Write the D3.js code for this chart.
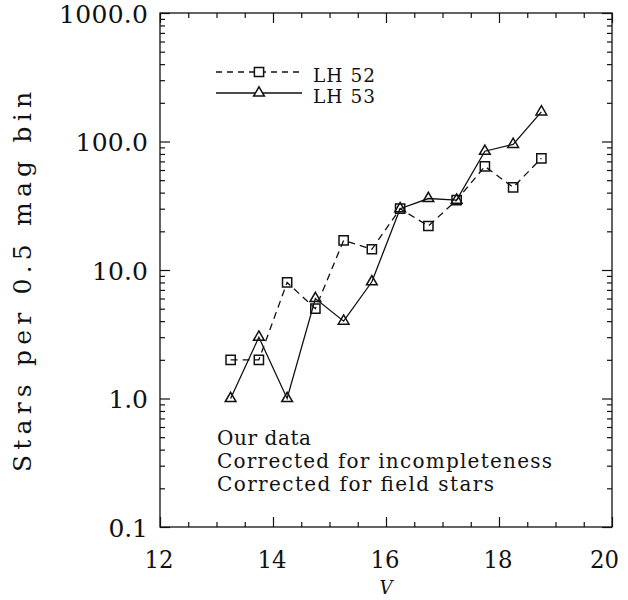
<!DOCTYPE html>
<html>
<head>
<meta charset="utf-8">
<script src="https://cdn.jsdelivr.net/npm/d3@7"></script>
<style>
  html, body { margin: 0; padding: 0; background: #fff; }
  svg { display: block; }
  text { font-family: "DejaVu Serif", "Liberation Serif", serif; fill: #111; }
</style>
</head>
<body>
<svg id="chart" width="628" height="600"></svg>
<script>
// Bin centres (V magnitude, 0.5 mag bins)
const binV = [13.25, 13.75, 14.25, 14.75, 15.25, 15.75, 16.25, 16.75, 17.25, 17.75, 18.25, 18.75];
// Stars per bin for each cluster
const lh52 = [2.0, 2.0, 8.0, 5.0, 17, 14.5, 30, 22, 35, 64, 44, 74];
const lh53 = [1.0, 3.0, 1.0, 6.0, 4.0, 8.1, 30, 36, 35, 84, 95, 170];
const seriesNames = ["LH 52", "LH 53"];
// Axis ticks
const xMajor = [12, 14, 16, 18, 20];
const xMinor = [12.5, 13, 13.5, 14.5, 15, 15.5, 16.5, 17, 17.5, 18.5, 19, 19.5];
const yMajor = [0.1, 1, 10, 100, 1000];
const yMajorLabels = ["0.1", "1.0", "10.0", "100.0", "1000.0"];
const notes = ["Our data", "Corrected for incompleteness", "Corrected for field stars"];

const svg = d3.select("#chart");
const plotL = 160, plotR = 612, plotT = 13, plotB = 527;
const ink = "#111";

const x = d3.scaleLinear().domain([12, 20]).range([plotL, plotR]);
const y = d3.scaleLog().domain([0.1, 1000]).range([plotB, plotT]);
const yMinor = y.ticks().filter(v => !yMajor.some(m => Math.abs(m - v) < 1e-9));

// Frame
svg.append("rect")
  .attr("x", plotL).attr("y", plotT)
  .attr("width", plotR - plotL).attr("height", plotB - plotT)
  .attr("fill", "none").attr("stroke", ink).attr("stroke-width", 1.3);

function styleAxis(g) {
  g.select(".domain").remove();
  g.selectAll("line").attr("stroke", ink).attr("stroke-width", 1.2);
}

// Bottom / top axes (ticks point inward)
svg.append("g").attr("transform", `translate(0,${plotB})`)
  .call(d3.axisBottom(x).tickValues(xMinor).tickSize(-5).tickFormat(""))
  .call(styleAxis);
const xb = svg.append("g").attr("transform", `translate(0,${plotB})`)
  .call(d3.axisBottom(x).tickValues(xMajor).tickSize(-10).tickFormat(d3.format("d")))
  .call(styleAxis);
// the last label is pulled in so it stays inside the page edge
xb.selectAll("text")
  .attr("y", 41).attr("dy", null)
  .attr("x", d => d === 20 ? -8 : -1.5)
  .attr("font-size", 25).attr("fill", ink)
  .attr("textLength", 29).attr("lengthAdjust", "spacingAndGlyphs");

svg.append("g").attr("transform", `translate(0,${plotT})`)
  .call(d3.axisTop(x).tickValues(xMinor).tickSize(-5).tickFormat(""))
  .call(styleAxis);
svg.append("g").attr("transform", `translate(0,${plotT})`)
  .call(d3.axisTop(x).tickValues(xMajor).tickSize(-10).tickFormat(""))
  .call(styleAxis);

// Left / right axes
svg.append("g").attr("transform", `translate(${plotL},0)`)
  .call(d3.axisLeft(y).tickValues(yMinor).tickSize(-5).tickFormat(""))
  .call(styleAxis);
const yl = svg.append("g").attr("transform", `translate(${plotL},0)`)
  .call(d3.axisLeft(y).tickValues(yMajor).tickSize(-10)
    .tickFormat((d, i) => yMajorLabels[i]))
  .call(styleAxis);
yl.selectAll("text")
  .attr("x", -12).attr("dy", null).attr("y", 9)
  .attr("font-size", 25).attr("fill", ink)
  .attr("text-anchor", "end")
  .attr("textLength", d => 16.5 * yMajorLabels[yMajor.indexOf(d)].length - 10)
  .attr("lengthAdjust", "spacing");

svg.append("g").attr("transform", `translate(${plotR},0)`)
  .call(d3.axisRight(y).tickValues(yMinor).tickSize(-5).tickFormat(""))
  .call(styleAxis);
svg.append("g").attr("transform", `translate(${plotR},0)`)
  .call(d3.axisRight(y).tickValues(yMajor).tickSize(-10).tickFormat(""))
  .call(styleAxis);

// Axis titles
svg.append("text")
  .attr("x", x(16)).attr("y", 594)
  .attr("text-anchor", "middle")
  .attr("font-size", 18).attr("font-style", "italic")
  .text("V");

svg.append("text")
  .attr("transform", `translate(31,${282}) rotate(-90)`)
  .attr("text-anchor", "middle")
  .attr("font-size", 25)
  .attr("textLength", 380).attr("lengthAdjust", "spacing")
  .text("Stars per 0.5 mag bin");

// Marker shapes
const sq = d3.symbol().type(d3.symbolSquare).size(85);
const tri = d3.symbol().type(d3.symbolTriangle).size(50);

const line = d3.line().x(d => x(d[0])).y(d => y(d[1]));

function drawSeries(values, dash, sym) {
  const pts = binV.map((v, i) => [v, values[i]]);
  svg.append("path")
    .attr("d", line(pts))
    .attr("fill", "none").attr("stroke", ink).attr("stroke-width", 1.3)
    .attr("stroke-dasharray", dash);
  svg.append("g").selectAll("path").data(pts).join("path")
    .attr("transform", d => `translate(${x(d[0])},${y(d[1])})`)
    .attr("d", sym)
    .attr("fill", "none").attr("stroke", ink).attr("stroke-width", 1.5);
}
drawSeries(lh52, "7,5", sq);
drawSeries(lh53, null, tri);

// Legend
const legend = [
  { name: seriesNames[0], dash: "6,5", sym: sq, ly: 72, ty: 81.5 },
  { name: seriesNames[1], dash: null, sym: tri, ly: 93, ty: 103 }
];
legend.forEach(L => {
  svg.append("line")
    .attr("x1", 216).attr("x2", 302).attr("y1", L.ly).attr("y2", L.ly)
    .attr("stroke", ink).attr("stroke-width", 1.3)
    .attr("stroke-dasharray", L.dash);
  svg.append("path")
    .attr("transform", `translate(259,${L.ly})`)
    .attr("d", L.sym)
    .attr("fill", "#fff").attr("stroke", ink).attr("stroke-width", 1.5);
  svg.append("text")
    .attr("x", 313).attr("y", L.ty)
    .attr("font-size", 18.5)
    .attr("textLength", 62).attr("lengthAdjust", "spacing")
    .text(L.name);
});

// Notes inside the plot
const noteWidths = [94, 335, 277];
notes.forEach((t, i) => {
  svg.append("text")
    .attr("x", 217).attr("y", 445 + i * 23)
    .attr("font-size", 20)
    .attr("textLength", noteWidths[i]).attr("lengthAdjust", "spacing")
    .text(t);
});
</script>
</body>
</html>
